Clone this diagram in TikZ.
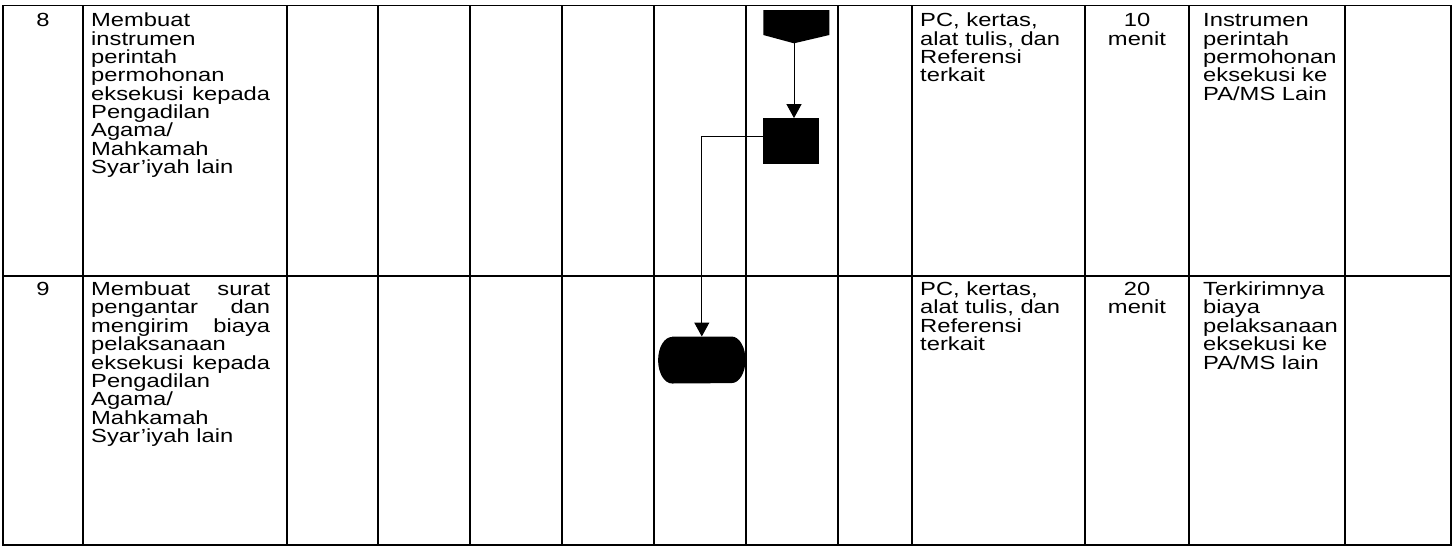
\documentclass[tikz,border=0pt]{standalone}
\usepackage{fontspec}
\setmainfont{Liberation Sans}[FakeStretch=1.25]
\usetikzlibrary{arrows.meta}
\newcommand\colL[1]{\vtop{\baselineskip=18.35pt\lineskiplimit=-100pt\halign{##\hfil\cr#1\crcr}}}
\newcommand\colC[1]{\vtop{\baselineskip=18.35pt\lineskiplimit=-100pt\halign{\hfil##\hfil\cr#1\crcr}}}
\newcommand\just[1]{\makebox[179pt][s]{#1}}
\tikzset{
  grid/.style={line width=1.6pt},
  txt/.style={inner sep=0pt, font=\fontsize{19}{18.35}\selectfont},
  conn/.style={line width=1pt, -{Triangle[length=14pt,width=15pt]}},
  box/.style={inner sep=0pt, draw=none},
}
\begin{document}
\begin{tikzpicture}[x=1pt,y=1pt]
\useasboundingbox (0,0) rectangle (1454,-547);
\fill[white] (0,0) rectangle (1454,-547);
% table grid
\foreach \x in {3,83,287,378,470,562,654,746,838,912,1085,1189,1345,1451}
  \draw[grid] (\x,-5.5) -- (\x,-545);
\foreach \y in {5.5,276,545}
  \draw[grid] (2.2,-\y) -- (1451.8,-\y);
% row 8 text
\node[txt, anchor=base] (n8) at (43,-26.8) {\colC{8}};
\node[txt, anchor=base west] (d8) at (91,-26.8) {\colL{Membuat\cr instrumen\cr perintah\cr permohonan\cr \just{eksekusi kepada}\cr Pengadilan\cr Agama/\cr Mahkamah\cr Syar’iyah lain}};
\node[txt, anchor=base west] (r8) at (920,-26.8) {\colL{PC, kertas,\cr alat tulis, dan\cr Referensi\cr terkait}};
\node[txt, anchor=base] (t8) at (1137,-26.8) {\colC{10\cr menit}};
\node[txt, anchor=base west] (o8) at (1203,-26.8) {\colL{Instrumen\cr perintah\cr permohonan\cr eksekusi ke\cr PA/MS Lain}};
% row 9 text
\node[txt, anchor=base] (n9) at (43,-295.6) {\colC{9}};
\node[txt, anchor=base west] (d9) at (91,-295.6) {\colL{\just{Membuat surat}\cr \just{pengantar dan}\cr \just{mengirim biaya}\cr pelaksanaan\cr \just{eksekusi kepada}\cr Pengadilan\cr Agama/\cr Mahkamah\cr Syar’iyah lain}};
\node[txt, anchor=base west] (r9) at (920,-295.6) {\colL{PC, kertas,\cr alat tulis, dan\cr Referensi\cr terkait}};
\node[txt, anchor=base] (t9) at (1137,-295.6) {\colC{20\cr menit}};
\node[txt, anchor=base west] (o9) at (1203,-295.6) {\colL{Terkirimnya\cr biaya\cr pelaksanaan\cr eksekusi ke\cr PA/MS lain}};
% flow shapes
\fill (763.3,-10) -- (829.3,-10) -- (829.3,-35) -- (794,-43.3) -- (763.3,-35) -- cycle;
\coordinate (offtip) at (794,-43.3);
\node[box, fill=black, minimum width=55.7pt, minimum height=46pt] (proc) at (791.15,-141.3) {};
\node[box, minimum width=87pt, minimum height=46.6pt] (term) at (701.8,-360) {};
\fill ([xshift=14pt]term.north west) -- ([xshift=-14pt]term.north east)
  arc[start angle=90, end angle=-90, x radius=14, y radius=23.3]
  -- ([xshift=14pt]term.south west)
  arc[start angle=270, end angle=90, x radius=14, y radius=23.3] -- cycle;
% connectors
\draw[conn] (offtip) -- (offtip |- proc.north);
\draw[conn] ([yshift=5pt]proc.west) -| (term.north);
\end{tikzpicture}
\end{document}
